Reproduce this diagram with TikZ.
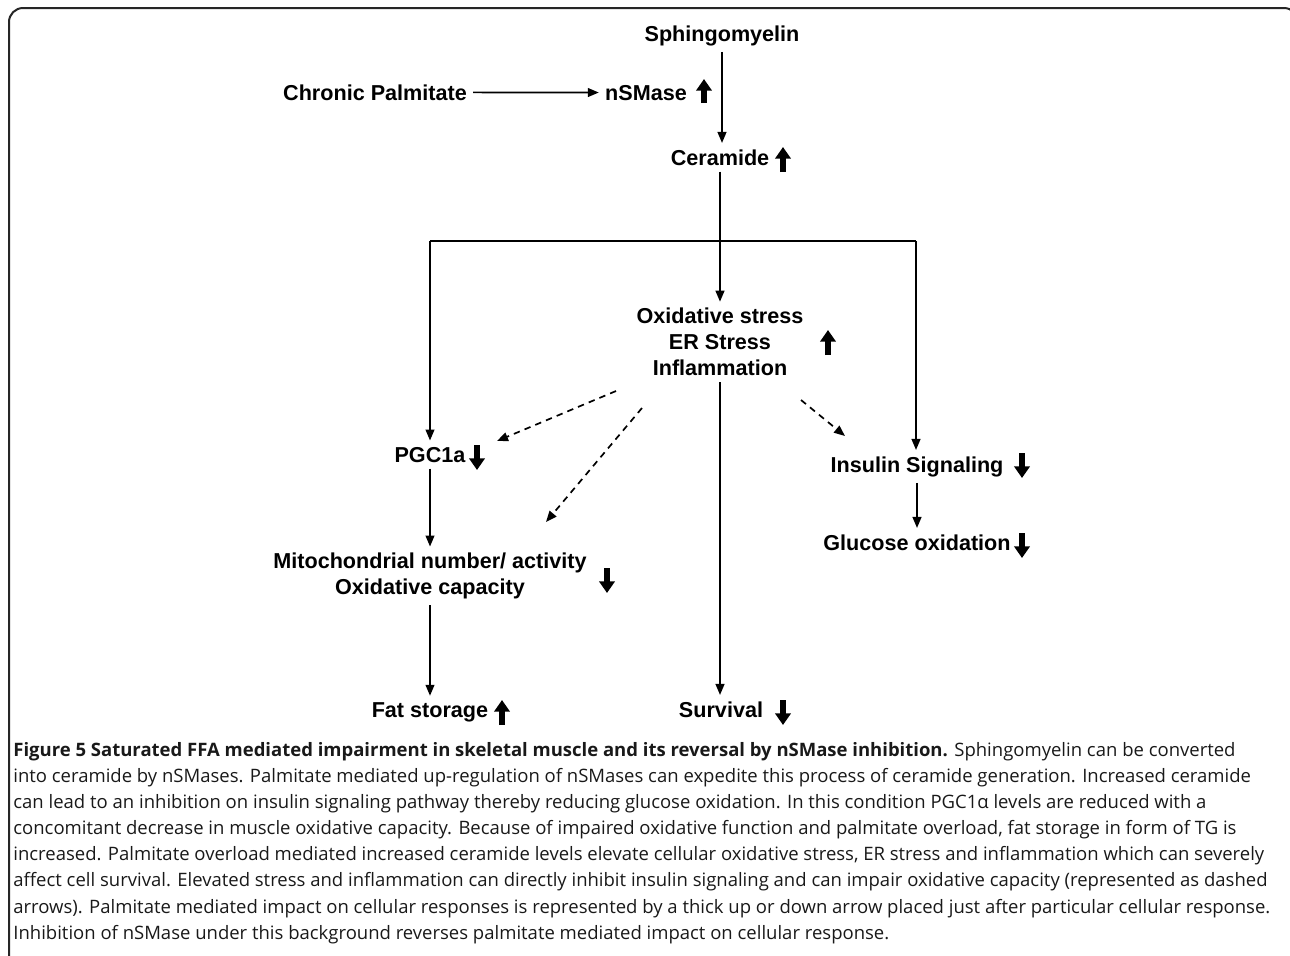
\documentclass[tikz,border=0pt]{standalone}
\usepackage{fontspec}
\setmainfont{Liberation Sans}
\newfontfamily\capfont{Open Sans}
\usetikzlibrary{arrows.meta}

\begin{document}
\begin{tikzpicture}[x=0.5pt,y=-0.5pt,
	every node/.style={font=\fontsize{10.8}{13}\selectfont\bfseries, inner sep=3pt},
	link/.style={line width=0.85pt,-{Triangle[length=5.5pt,width=4.4pt]}},
	dashlink/.style={link,dash pattern=on 3.2pt off 2.6pt},
	fatarrow/.style={line width=2.7pt,-{Triangle[length=5.8pt,width=7.6pt]}}]

	\useasboundingbox (0,0) rectangle (1290,955);
	\draw [line width=1pt, black!85, rounded corners=7pt] (9,970) -- (9,8) -- (1298,8) -- (1298,40);

	\node [anchor=base] (sph) at (722,41) {Sphingomyelin};
	\node [anchor=base] (pal) at (375,100) {Chronic Palmitate};
	\node [anchor=base] (nsm) at (646,100) {nSMase};
	\node [anchor=base] (cer) at (720,165) {Ceramide};
	\node [align=center] (ox) at (720,342) {Oxidative stress\\ER Stress\\Inflammation};
	\node [anchor=base] (pgc) at (430,462) {PGC1a};
	\node [anchor=base] (ins) at (917,472) {Insulin Signaling};
	\node [anchor=base] (glu) at (917,550) {Glucose oxidation};
	\node [align=center] (mit) at (430,576) {Mitochondrial number/ activity\\Oxidative capacity};
	\node [anchor=base] (fat) at (430,717) {Fat storage};
	\node [anchor=base] (sur) at (721,717) {Survival};

	\coordinate (bl) at (430,241);
	\coordinate (br) at (916,241);

	\draw [link] (pal) -- (nsm);
	\draw [link] (sph.south) -- (sph.south |- cer.north);
	\draw [link] (cer.south) -- (cer.south |- ox.north);
	\draw [line width=1.4pt] (bl) -- (br);
	\draw [link] (bl) -- (bl |- pgc.north);
	\draw [link] (br) -- (br |- ins.north);
	\draw [link] (ox.south) -- (ox.south |- sur.north);
	\draw [link] (pgc.south) -- (pgc.south |- mit.north);
	\draw [link] (mit.south) -- (mit.south |- fat.north);
	\draw [link] (ins.south) -- (ins.south |- glu.north);

	\coordinate (d1a) at (616,391);
	\coordinate (d1b) at (497,441);
	\coordinate (d2a) at (642,408);
	\coordinate (d2b) at (546,522);
	\coordinate (d3a) at (801,400);
	\coordinate (d3b) at (845,436);
	\draw [dashlink] (d1a) -- (d1b);
	\draw [dashlink] (d2a) -- (d2b);
	\draw [dashlink] (d3a) -- (d3b);

	\draw [fatarrow] (704,103) -- (704,79);
	\draw [fatarrow] (783,172) -- (783,147);
	\draw [fatarrow] (828,355) -- (828,330);
	\draw [fatarrow] (477,445) -- (477,470);
	\draw [fatarrow] (607,568) -- (607,593);
	\draw [fatarrow] (1022,453) -- (1022,478);
	\draw [fatarrow] (1022,533) -- (1022,558);
	\draw [fatarrow] (502,725) -- (502,700);
	\draw [fatarrow] (783,700) -- (783,725);

	\node [anchor=north west, align=left, inner sep=0pt, text=black!90,
		font=\capfont\fontsize{9.25}{13.05}\selectfont] (cap) at (13,742)
	{\textbf{Figure 5 Saturated FFA mediated impairment in skeletal muscle and its reversal by nSMase inhibition.} Sphingomyelin can be converted\\
	into ceramide by nSMases. Palmitate mediated up-regulation of nSMases can expedite this process of ceramide generation. Increased ceramide\\
	can lead to an inhibition on insulin signaling pathway thereby reducing glucose oxidation. In this condition PGC1α levels are reduced with a\\
	concomitant decrease in muscle oxidative capacity. Because of impaired oxidative function and palmitate overload, fat storage in form of TG is\\
	increased. Palmitate overload mediated increased ceramide levels elevate cellular oxidative stress, ER stress and inflammation which can severely\\
	affect cell survival. Elevated stress and inflammation can directly inhibit insulin signaling and can impair oxidative capacity (represented as dashed\\
	arrows). Palmitate mediated impact on cellular responses is represented by a thick up or down arrow placed just after particular cellular response.\\
	Inhibition of nSMase under this background reverses palmitate mediated impact on cellular response.};
\end{tikzpicture}
\end{document}
